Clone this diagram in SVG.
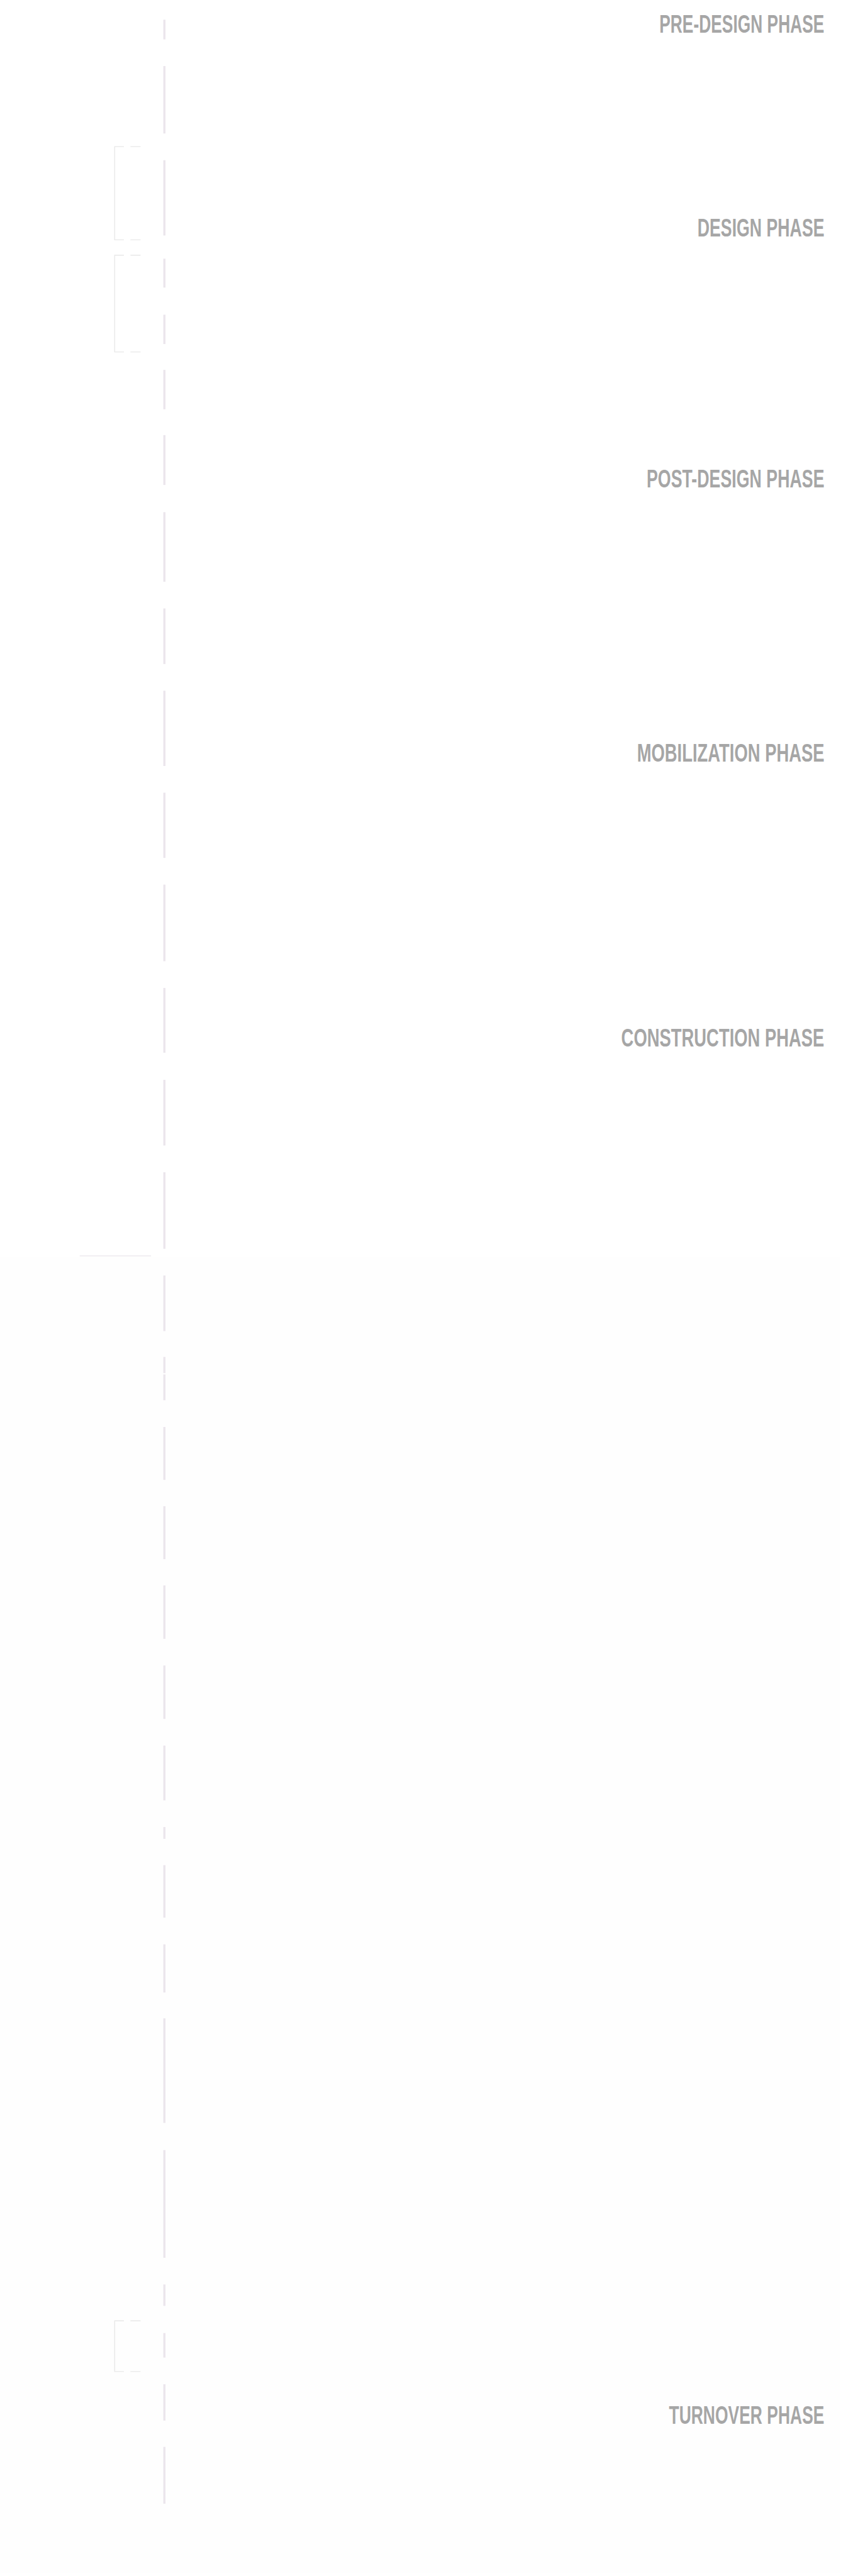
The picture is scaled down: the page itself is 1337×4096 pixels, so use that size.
<svg xmlns="http://www.w3.org/2000/svg" width="1337" height="4096" viewBox="0 0 1337 4096">
<style>
.lbl{font-family:"Liberation Sans",Arial,sans-serif;font-weight:bold;font-size:58px;fill:#a6a6a6}
.seg{fill:#ebe6ec}
.brk{fill:none;stroke:#e8e8e8;stroke-width:2}
</style>
<rect x="0" y="0" width="1337" height="4096" fill="#ffffff"/>
<g transform="scale(0.696)">
<rect x="0" y="2870" width="1920" height="3010" fill="#fefefe"/>
<g id="connectors">
<rect class="seg" x="373" y="45" width="5" height="45"/>
<rect class="seg" x="373" y="151" width="5" height="154"/>
<rect class="seg" x="373" y="366" width="5" height="172"/>
<rect class="seg" x="373" y="591" width="5" height="66"/>
<rect class="seg" x="373" y="719" width="5" height="67"/>
<rect class="seg" x="373" y="845" width="5" height="90"/>
<rect class="seg" x="373" y="994" width="5" height="114"/>
<rect class="seg" x="373" y="1170" width="5" height="159"/>
<rect class="seg" x="373" y="1390" width="5" height="127"/>
<rect class="seg" x="373" y="1578" width="5" height="172"/>
<rect class="seg" x="373" y="1811" width="5" height="149"/>
<rect class="seg" x="373" y="2021" width="5" height="175"/>
<rect class="seg" x="373" y="2257" width="5" height="148"/>
<rect class="seg" x="373" y="2467" width="5" height="150"/>
<rect class="seg" x="373" y="2678" width="5" height="175"/>
<rect class="seg" x="373" y="2914" width="5" height="127"/>
<rect class="seg" x="373" y="3100" width="5" height="37"/>
<rect class="seg" x="373" y="3140" width="5" height="59"/>
<rect class="seg" x="373" y="3260" width="5" height="121"/>
<rect class="seg" x="373" y="3441" width="5" height="121"/>
<rect class="seg" x="373" y="3622" width="5" height="122"/>
<rect class="seg" x="373" y="3805" width="5" height="122"/>
<rect class="seg" x="373" y="3988" width="5" height="125"/>
<rect class="seg" x="373" y="4174" width="5" height="27"/>
<rect class="seg" x="373" y="4261" width="5" height="120"/>
<rect class="seg" x="373" y="4442" width="5" height="110"/>
<rect class="seg" x="373" y="4611" width="5" height="239"/>
<rect class="seg" x="373" y="4912" width="5" height="246"/>
<rect class="seg" x="373" y="5219" width="5" height="49"/>
<rect class="seg" x="373" y="5330" width="5" height="56"/>
<rect class="seg" x="373" y="5447" width="5" height="83"/>
<rect class="seg" x="373" y="5590" width="5" height="130"/>
<line x1="182" y1="2869" x2="345" y2="2869" stroke="#ebe6ec" stroke-width="2"/>
</g>
<g id="bracket-1"><path class="brk" d="M283,335 H262 V548 H283 M298,335 H321 M298,548 H321"/></g>
<g id="bracket-2"><path class="brk" d="M283,583 H262 V804 H283 M298,583 H321 M298,804 H321"/></g>
<g id="bracket-3"><path class="brk" d="M283,5302 H262 V5418 H283 M298,5302 H321 M298,5418 H321"/></g>
<g id="label-predesign" transform="translate(1506,75) scale(0.653,1)"><text class="lbl" x="0" y="0" textLength="577" lengthAdjust="spacingAndGlyphs">PRE-DESIGN PHASE</text></g>
<g id="label-design" transform="translate(1593,540) scale(0.662,1)"><text class="lbl" x="0" y="0" textLength="438" lengthAdjust="spacingAndGlyphs">DESIGN PHASE</text></g>
<g id="label-postdesign" transform="translate(1477,1113) scale(0.66,1)"><text class="lbl" x="0" y="0" textLength="615" lengthAdjust="spacingAndGlyphs">POST-DESIGN PHASE</text></g>
<g id="label-mobilization" transform="translate(1455,1740) scale(0.674,1)"><text class="lbl" x="0" y="0" textLength="635" lengthAdjust="spacingAndGlyphs">MOBILIZATION PHASE</text></g>
<g id="label-construction" transform="translate(1419,2391) scale(0.679,1)"><text class="lbl" x="0" y="0" textLength="683" lengthAdjust="spacingAndGlyphs">CONSTRUCTION PHASE</text></g>
<g id="label-turnover" transform="translate(1528,5538) scale(0.656,1)"><text class="lbl" x="0" y="0" textLength="541" lengthAdjust="spacingAndGlyphs">TURNOVER PHASE</text></g>
</g>
</svg>
